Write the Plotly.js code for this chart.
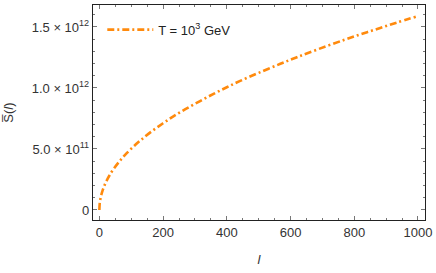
<!DOCTYPE html>
<html>
<head>
<meta charset="utf-8">
<script src="https://cdn.plot.ly/plotly-3.0.1.min.js"></script>
<style>html,body{margin:0;padding:0;background:#fff;}#chart{width:436px;height:273px;}</style>
</head>
<body>
<div id="chart"></div>
<script>
// values
const lValues = [0, 1, 3, 6, 10, 15, 22, 32, 45, 63, 80, 105, 130, 162, 200, 231, 270, 316, 360, 400, 442, 500, 568, 620, 688, 767, 820, 872, 930, 995];
const sValues = [0, 0.05e12, 0.087e12, 0.123e12, 0.159e12, 0.195e12, 0.236e12, 0.285e12, 0.337e12, 0.399e12, 0.450e12, 0.515e12, 0.573e12, 0.640e12, 0.711e12, 0.765e12, 0.826e12, 0.893e12, 0.954e12, 1.006e12, 1.058e12, 1.124e12, 1.198e12, 1.252e12, 1.319e12, 1.393e12, 1.440e12, 1.484e12, 1.533e12, 1.585e12];
const seriesName = "T = 10<sup>3</sup> GeV";
const xTickVals = [0, 200, 400, 600, 800, 1000];
const xTickText = ["0", "200", "400", "600", "800", "1000"];
const yTickVals = [0, 0.5e12, 1.0e12, 1.5e12];
const yTickText = ["0", "5.0 \u00d7 10<sup>11</sup>", "1.0 \u00d7 10<sup>12</sup>", "1.5 \u00d7 10<sup>12</sup>"];

const FONT = 'Liberation Sans, Arial, sans-serif';
const trace = {
  x: lValues, y: sValues, type: 'scatter', mode: 'lines', name: seriesName,
  line: {color: '#FF8A0D', width: 2.6, dash: '7px,3px,2px,3px', shape: 'spline'}
};
const axisCommon = {
  showline: true, linecolor: '#222', linewidth: 1.2, mirror: 'ticks',
  ticks: 'inside', ticklen: 4, tickwidth: 1, tickcolor: '#777',
  showgrid: false, zeroline: false,
  tickfont: {family: FONT, size: 13, color: '#333'}
};
const layout = {
  width: 436, height: 273,
  margin: {l: 93, r: 11, t: 5, b: 53},
  paper_bgcolor: '#fff', plot_bgcolor: '#fff',
  showlegend: true,
  legend: {x: 0.028, y: 0.955, xanchor: 'left', yanchor: 'top', bgcolor: 'rgba(0,0,0,0)',
           itemwidth: 46,
           font: {family: FONT, size: 13, color: '#222'}},
  xaxis: Object.assign({}, axisCommon, {
    range: [-20, 1022], tickvals: xTickVals, ticktext: xTickText,
    minor: {dtick: 50, tick0: 0, ticks: 'inside', ticklen: 2, tickcolor: '#777', showgrid: false},
    title: {text: '<i>l</i>', font: {family: FONT, size: 13, color: '#333'}, standoff: 16}
  }),
  yaxis: Object.assign({}, axisCommon, {
    range: [-0.082e12, 1.68e12], tickvals: yTickVals, ticktext: yTickText,
    minor: {dtick: 0.1e12, tick0: 0, ticks: 'inside', ticklen: 2, tickcolor: '#777', showgrid: false},
    title: {text: 'S\u0305(<i>l</i>)', font: {family: FONT, size: 13, color: '#333'}, standoff: 15}
  })
};
Plotly.newPlot('chart', [trace], layout, {displayModeBar: false, staticPlot: true});
</script>
</body>
</html>
